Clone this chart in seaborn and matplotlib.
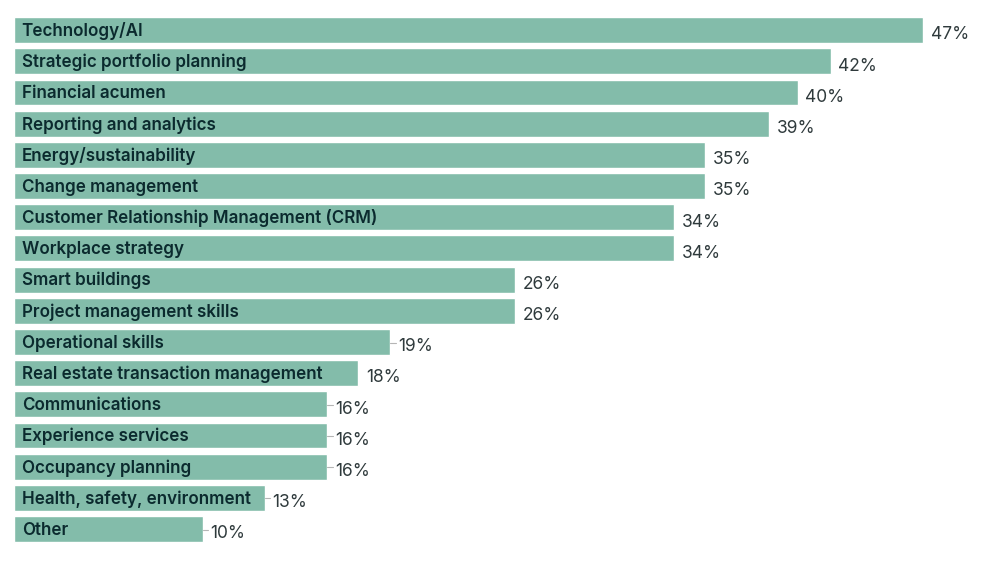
import matplotlib
matplotlib.use("Agg")
import matplotlib.pyplot as plt
import seaborn as sns
import pandas as pd

categories = [
    "Technology/AI",
    "Strategic portfolio planning",
    "Financial acumen",
    "Reporting and analytics",
    "Energy/sustainability",
    "Change management",
    "Customer Relationship Management (CRM)",
    "Workplace strategy",
    "Smart buildings",
    "Project management skills",
    "Operational skills",
    "Real estate transaction management",
    "Communications",
    "Experience services",
    "Occupancy planning",
    "Health, safety, environment",
    "Other",
]
# bar lengths as drawn (unrounded estimates), and the rounded labels shown
values = [47.0, 42.2, 40.5, 39.0, 35.7, 35.7, 34.1, 34.1, 25.9, 25.9,
          19.45, 17.8, 16.2, 16.2, 16.2, 12.95, 9.75]
value_labels = ["47%", "42%", "40%", "39%", "35%", "35%", "34%", "34%", "26%",
                "26%", "19%", "18%", "16%", "16%", "16%", "13%", "10%"]
has_leader = [False, False, False, False, False, False, False, False, False,
              False, True, False, True, True, True, True, True]

df = pd.DataFrame({"category": categories, "value": values})

sns.set_theme(style="white")
plt.rcParams["font.family"] = ["Inter", "DejaVu Sans"]

fig = plt.figure(figsize=(10, 5.8), dpi=100)
ax = fig.add_axes([0.014, 0.061, 0.9675, 0.914])

bar_color = "#83bcaa"
sns.barplot(data=df, y="category", x="value", orient="h", color=bar_color,
            saturation=1, width=0.83, ax=ax, order=categories)

for i, (cat, v, lab, ld) in enumerate(zip(categories, values, value_labels, has_leader)):
    ax.text(0.4, i + 0.19, cat, ha="left", va="baseline", fontsize=12.25,
            fontweight="semibold", color="#0b2a2e")
    ax.text(v + 0.4, i + 0.30, lab, ha="left", va="baseline", fontsize=12.5,
            color="#2f3a3c")
    if ld:
        ax.plot([v, v + 0.3], [i + 0.02, i + 0.02], color="#b5b5b5", lw=0.8)

ax.set_xlim(0, 50)
ax.set_ylim(len(categories) - 0.5, -0.5)
ax.set_xlabel("")
ax.set_ylabel("")
ax.set_xticks([])
ax.set_yticks([])
for s in ax.spines.values():
    s.set_visible(False)

fig.savefig("out.png", dpi=100, facecolor="white")
